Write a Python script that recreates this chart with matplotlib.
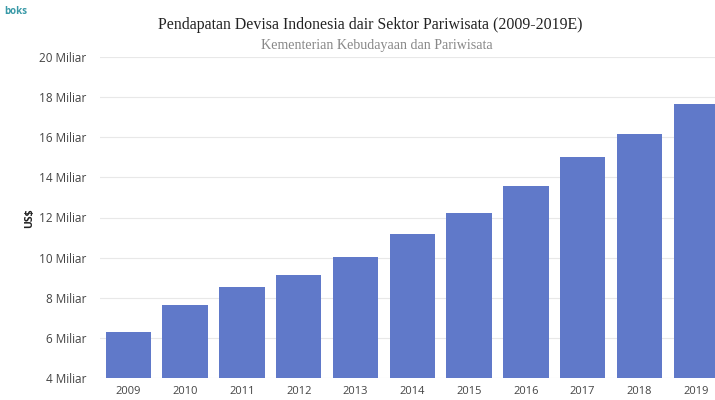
import matplotlib.pyplot as plt
from matplotlib.ticker import FuncFormatter

# data (US$ miliar)
years = ['2009', '2010', '2011', '2012', '2013', '2014', '2015', '2016', '2017', '2018', '2019']
devisa = [6.29, 7.63, 8.54, 9.12, 10.03, 11.18, 12.24, 13.57, 15.03, 16.15, 17.64]
yticks = [4, 6, 8, 10, 12, 14, 16, 18, 20]

bar_color = '#6079c9'

fig = plt.figure(figsize=(7.15, 4.0), dpi=100)
ax = fig.add_axes([100 / 715, 22 / 400, 615 / 715, 321 / 400])

x = range(len(years))
ax.bar(x, devisa, width=0.8, color=bar_color, zorder=2)

ax.set_ylim(4, 20)
ax.set_xlim(-0.5, 10.33)
ax.set_yticks(yticks)
ax.yaxis.set_major_formatter(FuncFormatter(lambda v, p: f'{int(v)} Miliar'))
ax.set_xticks(list(x))
ax.set_xticklabels(years)
ax.grid(axis='y', color='#e8e8e8', linewidth=0.8, zorder=0)
for s in ax.spines.values():
    s.set_visible(False)
ax.tick_params(axis='y', length=0, labelsize=8.5, colors='#444444', pad=10)
ax.tick_params(axis='x', length=0, labelsize=8, colors='#444444', pad=6)
for lab in ax.get_xticklabels() + ax.get_yticklabels():
    lab.set_family('Open Sans')

fig.text(30 / 715, 1 - 218 / 400, 'US$', rotation=90, ha='center', va='center',
         fontsize=7.5, fontweight='bold', color='#222222', family='Open Sans')

fig.text(370 / 715, 1 - 25 / 400, 'Pendapatan Devisa Indonesia dair Sektor Pariwisata (2009-2019E)',
         ha='center', va='center', fontsize=11.4, family='Liberation Serif', color='#222222')
fig.text(377 / 715, 1 - 45 / 400, 'Kementerian Kebudayaan dan Pariwisata',
         ha='center', va='center', fontsize=10.1, family='Liberation Serif', color='#888888')

# cropped logo
fig.text(4 / 715, 1 - 12 / 400, 'boks', ha='left', va='center', fontsize=7,
         fontweight='bold', color='#3a9aa8', family='Open Sans')

fig.savefig('out.png', dpi=100)
